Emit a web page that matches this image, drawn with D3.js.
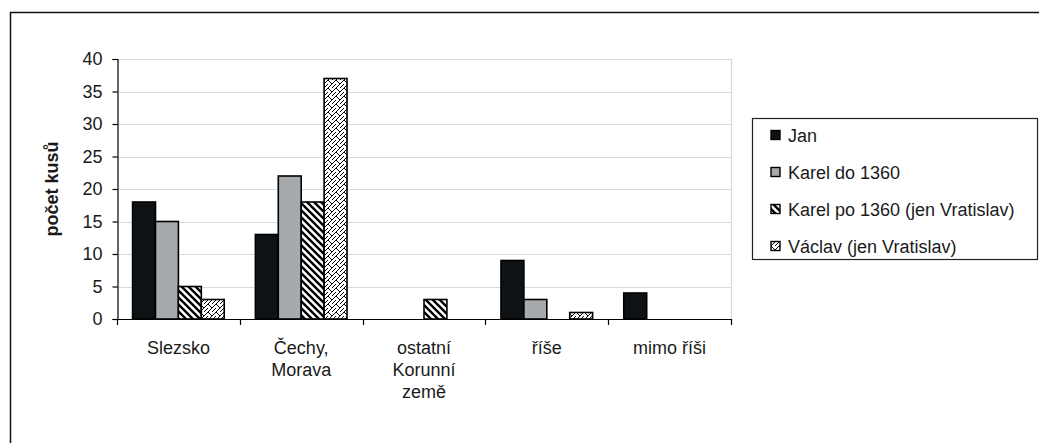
<!DOCTYPE html>
<html>
<head>
<meta charset="utf-8">
<script src="https://cdn.jsdelivr.net/npm/d3@7"></script>
<style>
  html, body { margin: 0; padding: 0; background: #fff; }
  svg { display: block; }
  text { font-family: "Liberation Sans", Arial, sans-serif; fill: #1a1a1a; }
</style>
</head>
<body>
<svg id="chart" width="1039" height="443"></svg>
<script>
// ---- data ----
const categories = ["Slezsko", "Čechy,\nMorava", "ostatní\nKorunní\nzemě", "říše", "mimo říši"];
const seriesNames = ["Jan", "Karel do 1360", "Karel po 1360 (jen Vratislav)", "Václav (jen Vratislav)"];
const janValues = [18, 13, 0, 9, 4];
const karelDoValues = [15, 22, 0, 3, 0];
const karelPoValues = [5, 18, 3, 0, 0];
const vaclavValues = [3, 37, 0, 1, 0];
const yTicks = [0, 5, 10, 15, 20, 25, 30, 35, 40];
const yLabel = "počet kusů";

const seriesValues = [janValues, karelDoValues, karelPoValues, vaclavValues];
const fills = ["#0e1214", "#a7aaac", "url(#hatchDiag)", "url(#hatchBrick)"];

const svg = d3.select("#chart");

// patterns
const defs = svg.append("defs");
const p1 = defs.append("pattern").attr("id", "hatchDiag")
  .attr("patternUnits", "userSpaceOnUse").attr("width", 7).attr("height", 7);
p1.append("rect").attr("width", 7).attr("height", 7).attr("fill", "#fff");
p1.append("path").attr("d", "M-1,-1 L8,8 M-4.5,2.5 L1,8 M2.5,-4.5 L8,1")
  .attr("stroke", "#000").attr("stroke-width", 2.4);

const p2 = defs.append("pattern").attr("id", "hatchBrick")
  .attr("patternUnits", "userSpaceOnUse").attr("width", 8).attr("height", 8);
p2.append("rect").attr("width", 8).attr("height", 8).attr("fill", "#fff");
p2.append("path").attr("d", "M0,8 L8,0 M-1,1 L1,-1 M7,9 L9,7 M0,0 L4,4 M4,8 L8,4")
  .attr("stroke", "#000").attr("stroke-width", 1).attr("fill", "none");

// outer frame
svg.append("rect").attr("x", 10.5).attr("y", 12.5).attr("width", 1100).attr("height", 500)
  .attr("fill", "none").attr("stroke", "#111").attr("stroke-width", 1.5);

// plot geometry
const plotLeft = 117, plotRight = 731, plotTop = 59, plotBottom = 319;

const y = d3.scaleLinear().domain([0, 40]).range([plotBottom, plotTop]);
const x0 = d3.scaleBand().domain(categories).range([plotLeft, plotRight]).padding(0);
const x1 = d3.scaleBand().domain(seriesNames).range([0, x0.bandwidth()])
  .paddingInner(0).paddingOuter(0.68);

// gridlines
svg.append("g").selectAll("line").data(yTicks.filter(d => d > 0)).join("line")
  .attr("x1", plotLeft).attr("x2", plotRight)
  .attr("y1", d => Math.round(y(d)) + 0.5).attr("y2", d => Math.round(y(d)) + 0.5)
  .attr("stroke", "#d9d9d9").attr("stroke-width", 1.2);
// plot area right border
svg.append("line").attr("x1", plotRight + 0.5).attr("x2", plotRight + 0.5)
  .attr("y1", plotTop).attr("y2", plotBottom).attr("stroke", "#d9d9d9").attr("stroke-width", 1.2);

// bars
const barData = [];
categories.forEach((c, ci) => {
  seriesNames.forEach((s, si) => {
    const v = seriesValues[si][ci];
    if (v > 0) barData.push({ c, s, si, v });
  });
});
svg.append("g").selectAll("rect").data(barData).join("rect")
  .attr("x", d => x0(d.c) + x1(d.s))
  .attr("y", d => y(d.v))
  .attr("width", x1.bandwidth())
  .attr("height", d => y(0) - y(d.v))
  .attr("fill", d => fills[d.si])
  .attr("stroke", "#000").attr("stroke-width", 1.6);

// y axis
const yAxis = svg.append("g").attr("transform", `translate(${plotLeft + 0.5},0)`)
  .call(d3.axisLeft(y).tickValues(yTicks).tickSize(5).tickPadding(10));
yAxis.select(".domain").attr("stroke", "#000").attr("stroke-width", 1.2);
yAxis.selectAll(".tick line").attr("stroke", "#000").attr("stroke-width", 1.2);
yAxis.selectAll(".tick text").attr("font-size", 18).attr("fill", "#1a1a1a")
  .attr("font-family", '"Liberation Sans", Arial, sans-serif');

// x axis
const xBoundaries = categories.map(c => x0(c)).concat([plotRight]);
const xAxisG = svg.append("g");
xAxisG.append("line").attr("x1", plotLeft).attr("x2", plotRight)
  .attr("y1", plotBottom + 0.5).attr("y2", plotBottom + 0.5)
  .attr("stroke", "#000").attr("stroke-width", 1.2);
xAxisG.selectAll("line.tk").data(xBoundaries).join("line").attr("class", "tk")
  .attr("x1", d => Math.round(d) + 0.5).attr("x2", d => Math.round(d) + 0.5)
  .attr("y1", plotBottom).attr("y2", plotBottom + 6)
  .attr("stroke", "#000").attr("stroke-width", 1.2);
const catLabels = xAxisG.selectAll("text.cat").data(categories).join("text").attr("class", "cat")
  .attr("text-anchor", "middle").attr("font-size", 18)
  .attr("transform", d => `translate(${x0(d) + x0.bandwidth() / 2},354)`);
catLabels.each(function (d) {
  const t = d3.select(this);
  d.split("\n").forEach((line, i) => {
    t.append("tspan").attr("x", 0).attr("y", i * 22).text(line);
  });
});

// y label
svg.append("text")
  .attr("transform", `translate(58,${(plotTop + plotBottom) / 2}) rotate(-90)`)
  .attr("text-anchor", "middle").attr("font-size", 18).attr("font-weight", "bold")
  .text(yLabel);

// legend
const lg = svg.append("g");
lg.append("rect").attr("x", 752.5).attr("y", 118.5).attr("width", 285).attr("height", 141)
  .attr("fill", "#fff").attr("stroke", "#222").attr("stroke-width", 1.2);
const rows = lg.selectAll("g.row").data(seriesNames).join("g").attr("class", "row")
  .attr("transform", (d, i) => `translate(771,${135 + i * 37})`);
rows.append("rect").attr("x", 0).attr("y", -4.5).attr("width", 9).attr("height", 9)
  .attr("fill", (d, i) => fills[i]).attr("stroke", "#000").attr("stroke-width", 1.4);
rows.append("text").attr("x", 17).attr("y", 6.5).attr("font-size", 18).text(d => d);
</script>
</body>
</html>
